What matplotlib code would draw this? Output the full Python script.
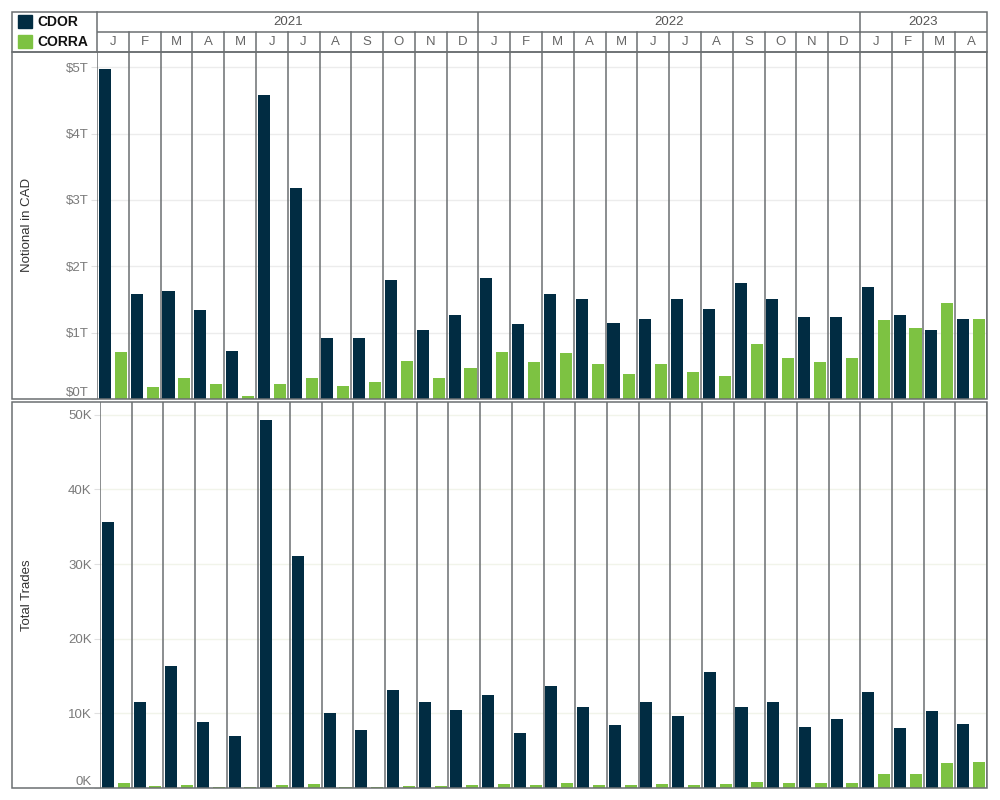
import matplotlib.pyplot as plt
from matplotlib.patches import Rectangle
from matplotlib.ticker import FuncFormatter
from matplotlib.transforms import ScaledTranslation
import numpy as np

plt.rcParams['font.family'] = ['Liberation Sans', 'DejaVu Sans']

# data
months = ['J', 'F', 'M', 'A', 'M', 'J', 'J', 'A', 'S', 'O', 'N', 'D'] * 2 + ['J', 'F', 'M', 'A']
years = ['2021', '2022', '2023']
year_spans = [12, 12, 4]

# notional in CAD, trillions
cdor_notional = [4.97, 1.59, 1.63, 1.34, 0.73, 4.58, 3.18, 0.92, 0.92, 1.80, 1.04, 1.27,
                 1.83, 1.13, 1.59, 1.51, 1.15, 1.21, 1.51, 1.36, 1.75, 1.51, 1.24, 1.24,
                 1.69, 1.27, 1.04, 1.21]
corra_notional = [0.71, 0.18, 0.31, 0.22, 0.05, 0.23, 0.31, 0.20, 0.25, 0.58, 0.32, 0.47,
                  0.71, 0.56, 0.70, 0.52, 0.38, 0.53, 0.40, 0.35, 0.83, 0.62, 0.56, 0.62,
                  1.19, 1.07, 1.45, 1.21]

# total trades, thousands
cdor_trades = [35.6, 11.5, 16.4, 8.8, 7.0, 49.3, 31.1, 10.0, 7.8, 13.1, 11.5, 10.5,
               12.4, 7.4, 13.7, 10.9, 8.5, 11.5, 9.6, 15.5, 10.8, 11.5, 8.2, 9.2,
               12.9, 8.1, 10.3, 8.6]
corra_trades = [0.72, 0.31, 0.45, 0.18, 0.18, 0.45, 0.58, 0.18, 0.18, 0.31, 0.31, 0.45,
                0.58, 0.45, 0.72, 0.45, 0.45, 0.58, 0.45, 0.58, 0.85, 0.72, 0.72, 0.72,
                1.92, 1.92, 3.40, 3.54]

CDOR_COLOR = '#012c42'
CORRA_COLOR = '#7dc242'
LINE_COLOR = '#6b6f71'
W, H = 1000, 800


def box(x0, y0, x1, y1):
    # pixel box (top-left origin) -> figure fraction rect
    return [x0 / W, 1 - y1 / H, (x1 - x0) / W, (y1 - y0) / H]


fig = plt.figure(figsize=(10, 8), dpi=100)
fig.patch.set_facecolor('white')


def draw_panel(rect, cdor, corra, ymax, ticks, fmt, grid_color):
    ax = fig.add_axes(rect)
    x = np.arange(len(months)) + 0.5
    ax.bar(x - 0.25, cdor, width=0.38, color=CDOR_COLOR, zorder=3)
    ax.bar(x + 0.25, corra, width=0.38, color=CORRA_COLOR, zorder=3)
    for k in range(len(months) + 1):
        ax.axvline(k, color=LINE_COLOR, lw=1.1, zorder=4)
    ax.set_xlim(0, len(months))
    ax.set_ylim(0, ymax)
    ax.set_xticks([])
    ax.set_yticks(ticks)
    ax.yaxis.set_major_formatter(FuncFormatter(fmt))
    ax.grid(axis='y', color=grid_color, lw=1, zorder=0)
    ax.tick_params(axis='y', length=4, pad=2, color='#e0e0e0',
                   labelcolor='#7a7a7a', labelsize=9.5)
    for s in ax.spines.values():
        s.set_visible(False)
    # the zero label sits just above the baseline, like Tableau does it
    fig.canvas.draw()
    lbl = ax.get_yticklabels()[0]
    lbl.set_transform(lbl.get_transform() + ScaledTranslation(0, 7.5 / 100, fig.dpi_scale_trans))
    return ax


draw_panel(box(97, 52, 987, 399), cdor_notional, corra_notional, 5.23,
           [0, 1, 2, 3, 4, 5], lambda v, p: f'${v:.0f}T', '#ececec')
draw_panel(box(100, 402, 987, 788), cdor_trades, corra_trades, 51.7,
           [0, 10, 20, 30, 40, 50], lambda v, p: f'{v:.0f}K', '#f1f4ea')

fig.text(27 / W, 1 - 225 / H, 'Notional in CAD', rotation=90, ha='center',
         va='center', fontsize=9.5, color='#333333')
fig.text(27 / W, 1 - 595 / H, 'Total Trades', rotation=90, ha='center',
         va='center', fontsize=9.5, color='#333333')

# header with years and months
hdr = fig.add_axes(box(97, 12, 987, 52))
hdr.set_xlim(0, len(months))
hdr.set_ylim(2, 0)
hdr.axis('off')
hdr.axhline(1, color=LINE_COLOR, lw=1.1)
for k in range(1, len(months)):
    hdr.plot([k, k], [1, 2], color=LINE_COLOR, lw=1.1)
for i, m in enumerate(months):
    hdr.text(i + 0.5, 1.5, m, ha='center', va='center', fontsize=9.5, color='#666666')
start = 0
for yr, span in zip(years, year_spans):
    hdr.text(start + span / 2, 0.5, yr, ha='center', va='center', fontsize=9.5, color='#555555')
    if start > 0:
        hdr.plot([start, start], [0, 1], color=LINE_COLOR, lw=1.1)
    start += span

# legend in the top-left corner
fig.patches.append(Rectangle((18 / W, 1 - 28 / H), 14 / W, 13 / H,
                             transform=fig.transFigure, color=CDOR_COLOR))
fig.patches.append(Rectangle((18 / W, 1 - 48 / H), 14 / W, 13 / H,
                             transform=fig.transFigure, color=CORRA_COLOR))
fig.text(37 / W, 1 - 22 / H, 'CDOR', ha='left', va='center', fontsize=10,
         fontweight='bold', color='#111111')
fig.text(37 / W, 1 - 42 / H, 'CORRA', ha='left', va='center', fontsize=10,
         fontweight='bold', color='#111111')

# frame lines on top of everything
ov = fig.add_axes([0, 0, 1, 1], zorder=10)
ov.set_xlim(0, W)
ov.set_ylim(H, 0)
ov.axis('off')
ov.patch.set_alpha(0)
for (x0, y0, x1, y1) in [(12, 12, 987, 52), (12, 52, 987, 399), (12, 402, 987, 788)]:
    ov.add_patch(Rectangle((x0, y0), x1 - x0, y1 - y0, fill=False,
                           edgecolor=LINE_COLOR, lw=1.1))
ov.plot([96.5, 96.5], [12, 52], color=LINE_COLOR, lw=1.1)

fig.savefig('out.png', dpi=100, facecolor='white')
